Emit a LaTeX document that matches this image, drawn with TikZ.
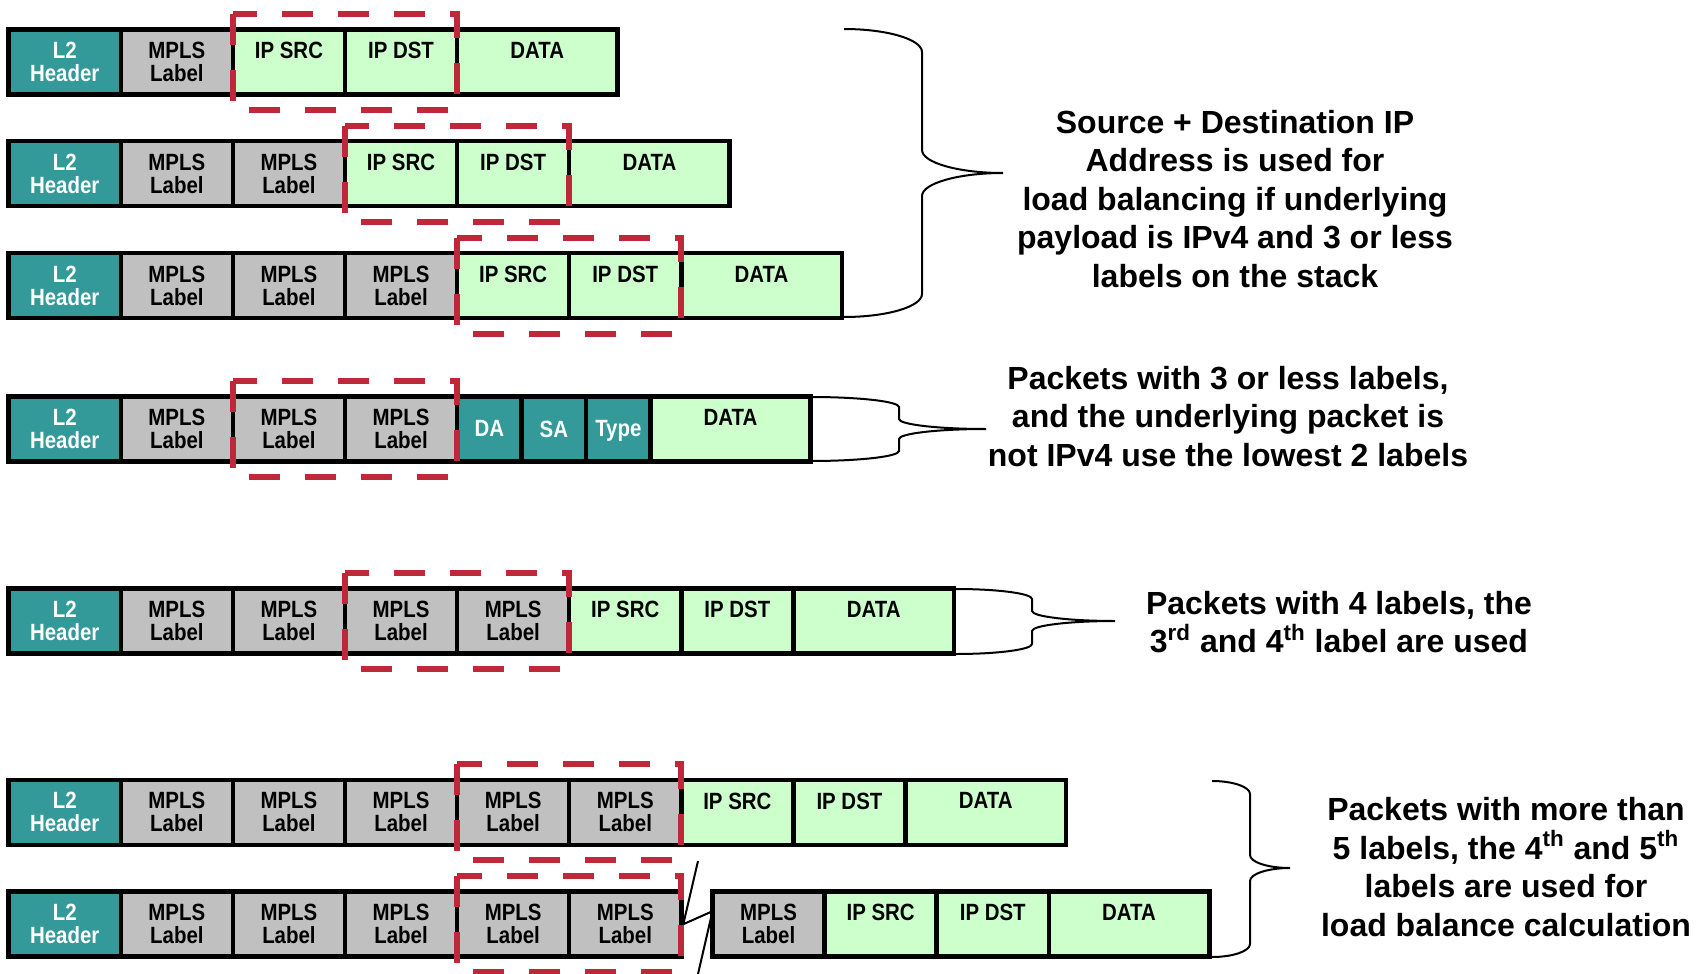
\documentclass[tikz,border=0pt]{standalone}
\usepackage{fontspec}
\setmainfont{Liberation Sans}
\newfontfamily\cellfont[FakeStretch=0.87]{Liberation Sans}
\usetikzlibrary{calc}

\definecolor{hdrteal}{RGB}{51,153,153}
\definecolor{lblgrey}{RGB}{192,192,192}
\definecolor{ipgreen}{RGB}{204,255,204}
\definecolor{selred}{RGB}{190,40,56}

% dashed selection frame around two adjacent fields of a packet:
% #1 = field left of the frame, #2 = last field inside the frame
\newcommand\selbox[2]{%
  \draw[sel] ($(#1.north east)+(0,-15.5)$) -- ($(#1.south east)+(0,15.5)$)
    -- ($(#2.south east)+(0,15.5)$) -- ($(#2.north east)+(0,-15.5)$) -- cycle;}

% right-pointing curly brace: x of the ends, x of the spine, x of the tip,
% y top, y of the tip, y bottom, radius of the bends
\newcommand\curlybrace[7]{%
  \draw[brace] (#1,#4) .. controls ({#1+0.55*(#2-#1)},#4) and (#2,{#4+0.45*#7}) .. (#2,{#4+#7})
    -- (#2,{#5-#7}) .. controls (#2,{#5-0.45*#7}) and ({#3-0.55*(#3-#2)},#5) .. (#3,#5)
    .. controls ({#3-0.55*(#3-#2)},#5) and (#2,{#5+0.45*#7}) .. (#2,{#5+#7})
    -- (#2,{#6-#7}) .. controls (#2,{#6-0.45*#7}) and ({#1+0.55*(#2-#1)},#6) .. (#1,#6);}

\begin{document}
\begin{tikzpicture}[x=0.5pt, y=-0.5pt,
  cell/.style={draw=black, line width=2.25pt, inner sep=0pt, outer sep=0pt,
    anchor=north west, minimum height=32.5pt, align=center,
    font=\cellfont\fontsize{11.75}{11.5}\selectfont\bfseries},
  hdr/.style={cell, fill=hdrteal, text=white, minimum width=56.05pt},
  lbl/.style={cell, fill=lblgrey, minimum width=56.05pt},
  ipf/.style={cell, fill=ipgreen, minimum width=56.05pt},
  payload/.style={cell, fill=ipgreen, minimum width=80.25pt},
  ethf/.style={cell, fill=hdrteal, text=white, minimum width=32.25pt, text depth=0pt},
  sel/.style={draw=selred, line width=3pt, dash pattern=on 15.5pt off 12.5pt},
  brace/.style={draw=black, line width=1pt},
  brk/.style={draw=black, line width=1pt},
  note/.style={align=center, inner sep=0pt, font=\fontsize{16}{19.25}\selectfont\bfseries}]

\fill[white] (0,0) rectangle (1703,974);
\useasboundingbox (0,0) rectangle (1703,974);

% ---- packet 1: one label, IPv4
\node[hdr] (r1a) at (8.7,29.3) {L2\\Header};
\node[lbl] (r1b) at (r1a.north east) {MPLS\\Label};
\node[ipf] (r1c) at (r1b.north east) {IP SRC\\\phantom{L}};
\node[ipf] (r1d) at (r1c.north east) {IP DST\\\phantom{L}};
\node[payload] (r1e) at (r1d.north east) {DATA\\\phantom{L}};

% ---- packet 2: two labels, IPv4
\node[hdr] (r2a) at (8.7,141.2) {L2\\Header};
\node[lbl] (r2b) at (r2a.north east) {MPLS\\Label};
\node[lbl] (r2c) at (r2b.north east) {MPLS\\Label};
\node[ipf] (r2d) at (r2c.north east) {IP SRC\\\phantom{L}};
\node[ipf] (r2e) at (r2d.north east) {IP DST\\\phantom{L}};
\node[payload] (r2f) at (r2e.north east) {DATA\\\phantom{L}};

% ---- packet 3: three labels, IPv4
\node[hdr] (r3a) at (8.7,253.1) {L2\\Header};
\node[lbl] (r3b) at (r3a.north east) {MPLS\\Label};
\node[lbl] (r3c) at (r3b.north east) {MPLS\\Label};
\node[lbl] (r3d) at (r3c.north east) {MPLS\\Label};
\node[ipf] (r3e) at (r3d.north east) {IP SRC\\\phantom{L}};
\node[ipf] (r3f) at (r3e.north east) {IP DST\\\phantom{L}};
\node[payload] (r3g) at (r3f.north east) {DATA\\\phantom{L}};

% ---- packet 4: three labels, non-IPv4 payload
\node[hdr] (r4a) at (8.7,396.4) {L2\\Header};
\node[lbl] (r4b) at (r4a.north east) {MPLS\\Label};
\node[lbl] (r4c) at (r4b.north east) {MPLS\\Label};
\node[lbl] (r4d) at (r4c.north east) {MPLS\\Label};
\node[ethf] (r4e) at (r4d.north east) {DA};
\node[ethf] (r4f) at (r4e.north east) {SA};
\node[ethf] (r4g) at (r4f.north east) {Type};
\node[payload, minimum width=80pt] (r4h) at (r4g.north east) {DATA\\\phantom{L}};

% ---- packet 5: four labels
\node[hdr] (r5a) at (8.7,588.7) {L2\\Header};
\node[lbl] (r5b) at (r5a.north east) {MPLS\\Label};
\node[lbl] (r5c) at (r5b.north east) {MPLS\\Label};
\node[lbl] (r5d) at (r5c.north east) {MPLS\\Label};
\node[lbl] (r5e) at (r5d.north east) {MPLS\\Label};
\node[ipf] (r5f) at (r5e.north east) {IP SRC\\\phantom{L}};
\node[ipf] (r5g) at (r5f.north east) {IP DST\\\phantom{L}};
\node[payload] (r5h) at (r5g.north east) {DATA\\\phantom{L}};

% ---- packet 6: five labels
\node[hdr] (r6a) at (8.7,779.8) {L2\\Header};
\node[lbl] (r6b) at (r6a.north east) {MPLS\\Label};
\node[lbl] (r6c) at (r6b.north east) {MPLS\\Label};
\node[lbl] (r6d) at (r6c.north east) {MPLS\\Label};
\node[lbl] (r6e) at (r6d.north east) {MPLS\\Label};
\node[lbl] (r6f) at (r6e.north east) {MPLS\\Label};
\node[ipf] (r6g) at (r6f.north east) {IP SRC\\\phantom{L}};
\node[ipf] (r6h) at (r6g.north east) {IP DST\\\phantom{L}};
\node[payload] (r6i) at (r6h.north east) {DATA\\\phantom{L}};

% ---- packet 7: more than five labels, drawn broken
\node[hdr] (r7a) at (8.7,891.7) {L2\\Header};
\node[lbl] (r7b) at (r7a.north east) {MPLS\\Label};
\node[lbl] (r7c) at (r7b.north east) {MPLS\\Label};
\node[lbl] (r7d) at (r7c.north east) {MPLS\\Label};
\node[lbl] (r7e) at (r7d.north east) {MPLS\\Label};
\node[lbl] (r7f) at (r7e.north east) {MPLS\\Label};
\node[lbl] (r7g) at (712.5,891.7) {MPLS\\Label};
\node[ipf] (r7h) at (r7g.north east) {IP SRC\\\phantom{L}};
\node[ipf] (r7i) at (r7h.north east) {IP DST\\\phantom{L}};
\node[payload] (r7j) at (r7i.north east) {DATA\\\phantom{L}};

% break marks between the two parts of packet 7
\coordinate (brkTop) at (698,861);
\coordinate (brkBot) at (698,974);
\draw[brk] (brkTop) -- ($(r7f.east)+(2,0)$) -- ($(r7g.west)+(0,-13)$) -- (brkBot);

% ---- hashed fields
\selbox{r1b}{r1d}
\selbox{r2c}{r2e}
\selbox{r3d}{r3f}
\selbox{r4b}{r4d}
\selbox{r5c}{r5e}
\selbox{r6d}{r6f}
\selbox{r7d}{r7f}

% ---- braces
\curlybrace{844}{922}{1003}{29}{173}{317}{23}
\curlybrace{811}{899}{986}{397}{429}{461}{10}
\curlybrace{956}{1032}{1115}{589}{621}{654}{10}
\curlybrace{1212}{1250}{1290}{781}{868}{957}{13}

% ---- explanations
\node[note] (n1) at (1235,198.7) {Source + Destination IP\\Address is used for\\load balancing if underlying\\payload is IPv4 and 3 or less\\labels on the stack};
\node[note] (n2) at (1228,416.5) {Packets with 3 or less labels,\\and the underlying packet is\\not IPv4 use the lowest 2 labels};
\node[note] (n3) at (1339,622) {Packets with 4 labels, the\\3\textsuperscript{rd} and 4\textsuperscript{th} label are used};
\node[note] (n4) at (1506,867) {Packets with more than\\5 labels, the 4\textsuperscript{th} and 5\textsuperscript{th}\\labels are used for\\load balance calculation};

\end{tikzpicture}
\end{document}
